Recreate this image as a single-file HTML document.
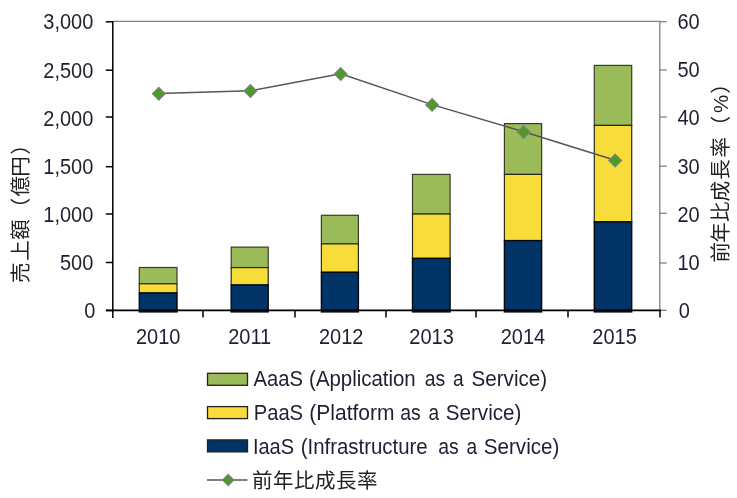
<!DOCTYPE html><html><head><meta charset="utf-8"><title>chart</title>
<style>html,body{margin:0;padding:0;background:#fff}svg{display:block;filter:blur(0.45px)}text{font-family:"Liberation Sans","Noto Sans CJK JP",sans-serif;font-size:20px;fill:#211d33}.cj{font-size:20.5px;letter-spacing:0.5px;fill:#222}.cj2{font-size:20.5px;fill:#222}</style></head><body>
<svg width="737" height="498" viewBox="0 0 737 498">
<rect width="737" height="498" fill="#fff"/>
<path d="M113 21.4H660.4" stroke="#808080" stroke-width="1.3" fill="none"/>
<path d="M659.8 21V311" stroke="#808080" stroke-width="1.3" fill="none"/>
<path d="M659.4 310.3H666.8" stroke="#808080" stroke-width="1.3"/>
<path d="M659.4 263.0H666.8" stroke="#808080" stroke-width="1.3"/>
<path d="M659.4 213.3H666.8" stroke="#808080" stroke-width="1.3"/>
<path d="M659.4 166.2H666.8" stroke="#808080" stroke-width="1.3"/>
<path d="M659.4 117.0H666.8" stroke="#808080" stroke-width="1.3"/>
<path d="M659.4 70.0H666.8" stroke="#808080" stroke-width="1.3"/>
<path d="M659.4 21.7H666.8" stroke="#808080" stroke-width="1.3"/>
<rect x="139.3" y="267.5" width="37.7" height="16.2" fill="#9bbb59" stroke="#3a3a2a" stroke-width="1.2"/>
<rect x="139.3" y="283.8" width="37.7" height="9.2" fill="#f7dc3a" stroke="#2a2a1a" stroke-width="1.2"/>
<rect x="139.3" y="293.0" width="37.7" height="18.9" fill="#003366" stroke="#05080f" stroke-width="1.4"/>
<rect x="231.2" y="247.1" width="37.0" height="20.5" fill="#9bbb59" stroke="#3a3a2a" stroke-width="1.2"/>
<rect x="231.2" y="267.6" width="37.0" height="17.4" fill="#f7dc3a" stroke="#2a2a1a" stroke-width="1.2"/>
<rect x="231.2" y="285.0" width="37.0" height="26.9" fill="#003366" stroke="#05080f" stroke-width="1.4"/>
<rect x="321.4" y="215.3" width="37.0" height="28.6" fill="#9bbb59" stroke="#3a3a2a" stroke-width="1.2"/>
<rect x="321.4" y="243.9" width="37.0" height="28.4" fill="#f7dc3a" stroke="#2a2a1a" stroke-width="1.2"/>
<rect x="321.4" y="272.3" width="37.0" height="39.6" fill="#003366" stroke="#05080f" stroke-width="1.4"/>
<rect x="412.5" y="174.4" width="37.6" height="39.6" fill="#9bbb59" stroke="#3a3a2a" stroke-width="1.2"/>
<rect x="412.5" y="214.0" width="37.6" height="44.4" fill="#f7dc3a" stroke="#2a2a1a" stroke-width="1.2"/>
<rect x="412.5" y="258.4" width="37.6" height="53.5" fill="#003366" stroke="#05080f" stroke-width="1.4"/>
<rect x="504.4" y="123.6" width="37.2" height="50.8" fill="#9bbb59" stroke="#3a3a2a" stroke-width="1.2"/>
<rect x="504.4" y="174.4" width="37.2" height="66.2" fill="#f7dc3a" stroke="#2a2a1a" stroke-width="1.2"/>
<rect x="504.4" y="240.6" width="37.2" height="71.3" fill="#003366" stroke="#05080f" stroke-width="1.4"/>
<rect x="594.3" y="65.4" width="37.4" height="60.0" fill="#9bbb59" stroke="#3a3a2a" stroke-width="1.2"/>
<rect x="594.3" y="125.4" width="37.4" height="96.5" fill="#f7dc3a" stroke="#2a2a1a" stroke-width="1.2"/>
<rect x="594.3" y="221.9" width="37.4" height="90.0" fill="#003366" stroke="#05080f" stroke-width="1.4"/>
<path d="M112.8 21V318" stroke="#000" stroke-width="1.5" fill="none"/>
<path d="M105.8 310.5H113" stroke="#000" stroke-width="1.5"/>
<path d="M105.8 262.5H113" stroke="#000" stroke-width="1.5"/>
<path d="M105.8 214.0H113" stroke="#000" stroke-width="1.5"/>
<path d="M105.8 166.7H113" stroke="#000" stroke-width="1.5"/>
<path d="M105.8 117.0H113" stroke="#000" stroke-width="1.5"/>
<path d="M105.8 70.2H113" stroke="#000" stroke-width="1.5"/>
<path d="M105.8 21.8H113" stroke="#000" stroke-width="1.5"/>
<path d="M106 310.4H661" stroke="#000" stroke-width="1.6" fill="none"/>
<path d="M203 310V317.5" stroke="#000" stroke-width="1.5"/>
<path d="M295 310V317.5" stroke="#000" stroke-width="1.5"/>
<path d="M386 310V317.5" stroke="#000" stroke-width="1.5"/>
<path d="M476 310V317.5" stroke="#000" stroke-width="1.5"/>
<path d="M568 310V317.5" stroke="#000" stroke-width="1.5"/>
<path d="M660 310V317.5" stroke="#000" stroke-width="1.5"/>
<path d="M158.8 93.4 L250.4 90.7 L340.7 73.7 L432.1 104.6 L523.7 131.7 L615.2 160.2" stroke="#555" stroke-width="1.5" fill="none"/>
<path d="M158.8 87.3L165.2 93.7L158.8 100.1L152.4 93.7Z" fill="#4f9a24" stroke="#7c8088" stroke-width="1.1"/>
<path d="M250.4 84.6L256.8 91.0L250.4 97.4L244.0 91.0Z" fill="#4f9a24" stroke="#7c8088" stroke-width="1.1"/>
<path d="M340.7 67.6L347.1 74.0L340.7 80.4L334.3 74.0Z" fill="#4f9a24" stroke="#7c8088" stroke-width="1.1"/>
<path d="M432.1 98.5L438.5 104.9L432.1 111.3L425.7 104.9Z" fill="#4f9a24" stroke="#7c8088" stroke-width="1.1"/>
<path d="M523.7 125.6L530.1 132.0L523.7 138.4L517.3 132.0Z" fill="#4f9a24" stroke="#7c8088" stroke-width="1.1"/>
<path d="M615.2 154.1L621.6 160.5L615.2 166.9L608.8 160.5Z" fill="#4f9a24" stroke="#7c8088" stroke-width="1.1"/>
<text x="95.5" transform="translate(0 318.0) scale(1 1.075)" text-anchor="end">0</text>
<text x="93.3" transform="translate(0 269.9) scale(1 1.075)" text-anchor="end">500</text>
<text x="93.3" transform="translate(0 221.8) scale(1 1.075)" text-anchor="end">1,000</text>
<text x="93.3" transform="translate(0 173.7) scale(1 1.075)" text-anchor="end">1,500</text>
<text x="93.3" transform="translate(0 125.6) scale(1 1.075)" text-anchor="end">2,000</text>
<text x="93.3" transform="translate(0 77.5) scale(1 1.075)" text-anchor="end">2,500</text>
<text x="93.3" transform="translate(0 29.4) scale(1 1.075)" text-anchor="end">3,000</text>
<text x="678.7" transform="translate(0 318.0) scale(1 1.075)">0</text>
<text x="677.5" transform="translate(0 269.8) scale(1 1.075)">10</text>
<text x="677.5" transform="translate(0 221.7) scale(1 1.075)">20</text>
<text x="677.5" transform="translate(0 173.5) scale(1 1.075)">30</text>
<text x="677.5" transform="translate(0 125.3) scale(1 1.075)">40</text>
<text x="677.5" transform="translate(0 77.1) scale(1 1.075)">50</text>
<text x="677.5" transform="translate(0 29.0) scale(1 1.075)">60</text>
<text x="158.2" transform="translate(0 343.8) scale(1 1.075)" text-anchor="middle">2010</text>
<text x="249.7" transform="translate(0 343.8) scale(1 1.075)" text-anchor="middle">2011</text>
<text x="341.2" transform="translate(0 343.8) scale(1 1.075)" text-anchor="middle">2012</text>
<text x="431.6" transform="translate(0 343.8) scale(1 1.075)" text-anchor="middle">2013</text>
<text x="523.0" transform="translate(0 343.8) scale(1 1.075)" text-anchor="middle">2014</text>
<text x="614.6" transform="translate(0 343.8) scale(1 1.075)" text-anchor="middle">2015</text>
<text class="cj2" transform="translate(28 284) rotate(-90)" x="1.1 23.3 44.2 65.8 87.6 107.2 129.3">売上額（億円）</text>
<text class="cj2" transform="translate(728 262) rotate(-90)" x="-0.5 19.2 40 60.5 82.2 104.6 125.8 148.9 168.2">前年比成長率（%）</text>
<rect x="207.5" y="373.3" width="40" height="12" fill="#9bbb59" stroke="#222" stroke-width="1.3"/>
<text transform="translate(0 386.3) scale(1 1.075)"><tspan x="253.5" textLength="49.4" lengthAdjust="spacingAndGlyphs">AaaS</tspan> <tspan x="309.1" textLength="106.6" lengthAdjust="spacingAndGlyphs">(Application</tspan> <tspan x="424.8" textLength="20.5" lengthAdjust="spacingAndGlyphs">as</tspan> <tspan x="453.1" textLength="10.6" lengthAdjust="spacingAndGlyphs">a</tspan> <tspan x="471.5" textLength="75.6" lengthAdjust="spacingAndGlyphs">Service)</tspan></text>
<rect x="207.5" y="406.6" width="40" height="12" fill="#f7dc3a" stroke="#222" stroke-width="1.3"/>
<text transform="translate(0 419.9) scale(1 1.075)"><tspan x="253.7" textLength="49.4" lengthAdjust="spacingAndGlyphs">PaaS</tspan> <tspan x="309.3" textLength="85.2" lengthAdjust="spacingAndGlyphs">(Platform</tspan> <tspan x="400.2" textLength="20.5" lengthAdjust="spacingAndGlyphs">as</tspan> <tspan x="428.4" textLength="10.6" lengthAdjust="spacingAndGlyphs">a</tspan> <tspan x="445.8" textLength="75.6" lengthAdjust="spacingAndGlyphs">Service)</tspan></text>
<rect x="207.5" y="439.9" width="40" height="12" fill="#003366" stroke="#222" stroke-width="1.3"/>
<text transform="translate(0 453.7) scale(1 1.075)"><tspan x="252.9" textLength="41.1" lengthAdjust="spacingAndGlyphs">IaaS</tspan> <tspan x="300.7" textLength="127.0" lengthAdjust="spacingAndGlyphs">(Infrastructure</tspan> <tspan x="438.2" textLength="20.5" lengthAdjust="spacingAndGlyphs">as</tspan> <tspan x="466.6" textLength="10.6" lengthAdjust="spacingAndGlyphs">a</tspan> <tspan x="483.8" textLength="75.6" lengthAdjust="spacingAndGlyphs">Service)</tspan></text>
<path d="M207 480H247.5" stroke="#555" stroke-width="1.5"/>
<path d="M228.2 474.4L233.8 480.0L228.2 485.6L222.6 480.0Z" fill="#4f9a24" stroke="#7c8088" stroke-width="1.1"/>
<text class="cj" x="252" y="487.5">前年比成長率</text>
</svg></body></html>
